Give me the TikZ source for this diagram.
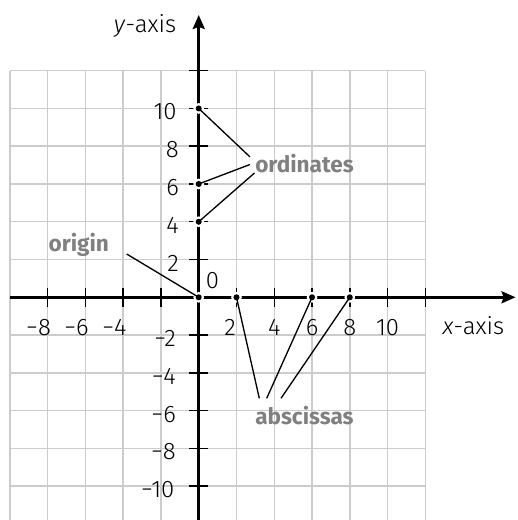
\documentclass[tikz,border=0pt]{standalone}
\usepackage{fontspec}
\setmainfont{Fira Sans}[UprightFont=* Light, ItalicFont=* Light Italic, BoldFont=* Bold]
\usetikzlibrary{arrows.meta}
\definecolor{gridc}{RGB}{204,204,204}
\definecolor{labc}{RGB}{128,128,128}
\begin{document}
\begin{tikzpicture}[
 gridline/.style={draw=gridc, line width=1.1pt},
 axisline/.style={line width=2pt, -{Stealth[length=10.5pt,width=9pt,inset=1.5pt]}},
 tickline/.style={line width=1.1pt},
 ticklab/.style={inner sep=0pt, font=\fontsize{18}{18}\selectfont},
 annot/.style={inner sep=0pt, text=labc, font=\fontsize{17}{17}\selectfont\bfseries},
 leader/.style={line width=1pt},
 halo/.style={fill=white},
 dotmark/.style={fill=black},
]
\clip (-5.261,-5.896) rectangle (8.427,7.871);
\draw[gridline] (-5,-6) grid (6,6);
% axes
\coordinate (ybot) at (0,-6.2);
\coordinate (ytop) at (0,7.474);
\coordinate (xleft) at (-5,0);
\coordinate (xright) at (8.388,0);
\draw[axisline] (ybot) -- (ytop);
\draw[axisline] (xleft) -- (xright);
% ticks
\foreach \i in {-4,-3,-2,-1,1,2,3,4,5,6} \draw[tickline] (\i,-0.25) -- (\i,0.25);
\foreach \j in {-6,-5,-4,-3,-2,-1,1,2,3,4,5,6} \draw[tickline] (-0.25,\j) -- (0.25,\j);
% points
\coordinate (o) at (0,0);
\coordinate (a2) at (1,0);
\coordinate (a6) at (3,0);
\coordinate (a8) at (4,0);
\coordinate (b4) at (0,2);
\coordinate (b6) at (0,3);
\coordinate (b10) at (0,5);
\foreach \p in {o,a2,a6,a8,b4,b6,b10} \fill[halo] (\p) circle (0.143);
% labels
\node[annot, anchor=base west] (ordl) at (1.49,3.317) {ordinates};
\node[annot, anchor=base west] (orgl) at (-3.982,1.20) {origin};
\node[annot, anchor=base west] (absl) at (1.49,-3.355) {abscissas};
\coordinate (e10) at (1.357,3.717);
\coordinate (e6) at (1.357,3.516);
\coordinate (e4) at (1.477,3.291);
\coordinate (eo) at (-1.906,1.146);
\coordinate (f2) at (1.604,-2.674);
\coordinate (f6) at (1.80,-2.674);
\coordinate (f8) at (2.179,-2.674);
\draw[leader] (b10) -- (e10);
\draw[leader] (b6) -- (e6);
\draw[leader] (b4) -- (e4);
\draw[leader] (o) -- (eo);
\draw[leader] (a2) -- (f2);
\draw[leader] (a6) -- (f6);
\draw[leader] (a8) -- (f8);
\foreach \p in {o,a2,a6,a8,b4,b6,b10} \fill[dotmark] (\p) circle (0.08);
% tick labels x
\node[ticklab, anchor=base east] (xm8) at (-3.907,-1.0) {−8};
\node[ticklab, anchor=base east] (xm6) at (-2.907,-1.0) {−6};
\node[ticklab, anchor=base east] (xm4) at (-1.907,-1.0) {−4};
\node[ticklab, anchor=base] (x2) at (0.83,-1.0) {2};
\node[ticklab, anchor=base] (x4) at (2,-1.0) {4};
\node[ticklab, anchor=base] (x6) at (3,-1.0) {6};
\node[ticklab, anchor=base] (x8) at (4,-1.0) {8};
\node[ticklab, anchor=base] (x10) at (5,-1.0) {10};
% tick labels y
\node[ticklab, anchor=base east] (y10) at (-0.58,4.695) {10};
\node[ticklab, anchor=base east] (y8) at (-0.52,3.695) {8};
\node[ticklab, anchor=base east] (y6) at (-0.52,2.695) {6};
\node[ticklab, anchor=base east] (y4) at (-0.52,1.695) {4};
\node[ticklab, anchor=base east] (y2) at (-0.52,0.695) {2};
\node[ticklab, anchor=base east] (ym2) at (-0.60,-1.305) {−2};
\node[ticklab, anchor=base east] (ym4) at (-0.60,-2.305) {−4};
\node[ticklab, anchor=base east] (ym6) at (-0.60,-3.305) {−6};
\node[ticklab, anchor=base east] (ym8) at (-0.60,-4.305) {−8};
\node[ticklab, anchor=base east] (ym10) at (-0.64,-5.305) {−10};
\node[ticklab, anchor=base] (zero) at (0.365,0.238) {0};
% axis labels
\node[ticklab, anchor=base east] (ylab) at (-0.59,7.016) {\textit{y}-axis};
\node[ticklab, anchor=base] (xlab) at (7.27,-0.99) {\textit{x}-axis};
\end{tikzpicture}
\end{document}
